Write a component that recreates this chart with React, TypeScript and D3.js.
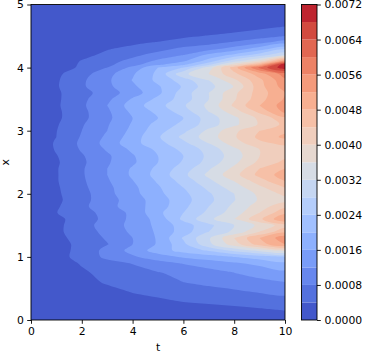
import React, { useEffect, useRef } from 'react';
import * as d3 from 'd3';

// time columns (t) and space rows (x), field values in units of 1e-4
const tValues = [0, 1, 2, 3, 4, 5, 6, 7, 8, 9, 10];
const xRows = [
  0, 0.15, 0.3, 0.45, 0.6, 0.75, 0.9, 1.0, 1.1, 1.2, 1.3, 1.4, 1.5, 1.6, 1.7, 1.8, 1.9, 2.0, 2.1, 2.2, 2.3,
  2.4, 2.5, 2.6, 2.7, 2.8, 2.9, 3.0, 3.1, 3.2, 3.3, 3.4, 3.5, 3.6, 3.7, 3.8, 3.9, 4.0, 4.05, 4.1, 4.2, 4.3,
  4.4, 4.5, 4.65, 4.8, 5,
];
const field = [
  [0, 0, 0, 0, 0, 0, 0, 0, 0, 0, 0],
  [0, 0.1, 0.4, 0.8, 1.2, 1.6, 2, 2.4, 2.9, 3.4, 4],
  [0, 0.3, 1, 1.8, 2.8, 3.4, 4.2, 4.7, 5.2, 5.8, 6.4],
  [0, 0.6, 1.8, 3, 4.2, 5, 5.8, 6.6, 7.4, 8.4, 9.2],
  [0, 1, 2.8, 4.4, 5.6, 6.8, 8, 9, 10, 11, 12],
  [0, 1.5, 3.5, 5, 6.5, 7.8, 9, 10.5, 12, 13.5, 15],
  [0, 2.3, 4.3, 6.5, 8.2, 10.5, 12.3, 14, 15.5, 17, 19],
  [0, 2.7, 5.2, 9, 11.4, 14, 16.5, 18, 20, 22, 24],
  [0, 2.5, 5.2, 9.3, 13.3, 18, 21.5, 24.5, 29, 33, 37],
  [0, 2.5, 5.1, 7.8, 12, 16.5, 23, 31, 38, 46, 52],
  [0, 2.9, 5.5, 8.5, 12, 16.5, 24.5, 31.5, 40, 48, 54.5],
  [0, 3.2, 6, 9.2, 12.8, 16.7, 22, 28, 33, 40, 47],
  [0, 3, 6.4, 9.7, 13.2, 17, 22, 27, 32, 37, 42],
  [0, 3, 5.9, 9.2, 13, 17.5, 25, 31, 36, 43, 52],
  [0, 3.9, 6.5, 9.3, 13, 19, 24, 29, 34, 40, 47],
  [0, 3.5, 7, 10.6, 14, 18, 23, 28, 33, 38, 43],
  [0, 3.1, 6.7, 10.3, 14, 18, 22.5, 27, 31.8, 36.5, 38.5],
  [0, 3.4, 6.5, 10.8, 14.7, 19, 23, 27.5, 32, 37, 41],
  [0, 3.5, 7, 11, 15, 19.5, 24, 29, 34, 39, 44],
  [0, 3.7, 7.3, 11.5, 15.8, 20.5, 25.5, 31, 36, 42, 48],
  [0, 3.7, 7.5, 12, 16.7, 21.5, 27, 33, 38.5, 45.3, 50],
  [0, 3.7, 7.5, 12, 16.5, 21, 26, 31.5, 37, 44, 48],
  [0, 3.5, 7.2, 11.5, 15.3, 20, 24.5, 29.5, 35, 41, 45],
  [0, 3.8, 7.6, 11.3, 15.6, 20, 24, 29, 34, 40, 43],
  [0, 4.4, 8.4, 12.4, 16.8, 20.8, 25, 29.5, 35, 40, 42],
  [0, 4.6, 8.8, 13.4, 18.7, 22.5, 27, 32, 38, 43, 45],
  [0, 4, 8.4, 12.8, 18, 23.5, 29, 34, 39.5, 45, 49],
  [0, 3.9, 8, 12, 17.2, 22.5, 27, 33, 39, 44, 47],
  [0, 3.6, 7.6, 11.6, 16.5, 21.5, 25, 30, 35, 40.5, 45],
  [0, 3.2, 6.9, 11, 16, 20, 24, 30, 35, 41, 47],
  [0, 3.2, 6.9, 11.2, 17, 21, 26, 32, 38, 45, 53],
  [0, 3.4, 7.2, 12, 18, 22.5, 27.5, 33, 40.8, 48, 54],
  [0, 3.3, 7, 11, 16.5, 21, 26, 32, 39.5, 46.5, 52.5],
  [0, 3.4, 6.5, 10, 14, 19, 26, 32, 39, 46, 52],
  [0, 3.6, 7.4, 11, 15.2, 19.5, 24.5, 30.6, 36.2, 46.5, 54],
  [0, 3.5, 7.3, 11.2, 16.2, 21, 26, 32, 39, 47, 55],
  [0, 3.2, 6.4, 10.6, 15.5, 21, 31, 36, 43, 50, 58],
  [0, 2.2, 4.6, 8, 13, 20, 24, 34, 46, 61, 71],
  [0, 1.7, 4.5, 7, 10.5, 15, 19, 27, 38, 49, 71.8],
  [0, 1.1, 4.3, 6.5, 9.3, 13, 15.7, 22, 31, 38, 55],
  [0, 0.6, 2.8, 5, 7, 9.5, 12, 17, 21, 26, 32],
  [0, 0.4, 1.8, 3.7, 5, 6.5, 9, 10.5, 13.5, 18, 23],
  [0, 0.2, 0.8, 2, 3.2, 4.2, 5.4, 6.6, 8.4, 10.5, 14],
  [0, 0, 0.2, 0.7, 1.2, 2.2, 3.4, 4.2, 5, 6.3, 8],
  [0, 0, 0, 0.1, 0.3, 0.5, 1, 1.5, 2.3, 3, 4],
  [0, 0, 0, 0, 0.1, 0.2, 0.3, 0.5, 0.8, 1.2, 1.6],
  [0, 0, 0, 0, 0, 0, 0, 0, 0, 0, 0],
];
const levels = d3.range(0, 19).map((i) => i * 4);
const bandColors = [
  '#4358cb', '#5471de', '#6787ee', '#799cf8', '#8db0fe', '#a1c0ff', '#b4cdfb', '#c5d6f2', '#d6dce5',
  '#e6d8d0', '#f0cebd', '#f6c0a7', '#f7af91', '#f49a7b', '#ed8266', '#e16752', '#d24a3f', '#be242f',
];
const tTicks = [0, 2, 4, 6, 8, 10];
const xTicks = [0, 1, 2, 3, 4, 5];
const cbarTicks = [0, 8, 16, 24, 32, 40, 48, 56, 64, 72];

const WIDTH = 365;
const HEIGHT = 355;
const plot = { left: 31, right: 285, top: 4.5, bottom: 320 };
const cbar = { left: 301.5, right: 317 };
const FONT = '"DejaVu Sans"';
const FONT_SIZE = 10.8;

const App = () => {
  const svgRef = useRef<SVGSVGElement>(null);

  useEffect(() => {
    const svg = d3.select(svgRef.current);
    svg.selectAll('*').remove();

    const tScale = d3.scaleLinear().domain([0, 10]).range([plot.left, plot.right]);
    const xScale = d3.scaleLinear().domain([0, 5]).range([plot.bottom, plot.top]);
    const cScale = d3.scaleLinear().domain([0, 72]).range([plot.bottom, plot.top]);

    // grid index -> data value, the rows are not evenly spaced
    const colScale = d3.scaleLinear().domain(d3.range(tValues.length)).range(tValues);
    const rowScale = d3.scaleLinear().domain(d3.range(xRows.length)).range(xRows);

    const contours = d3.contours()
      .size([tValues.length, xRows.length])
      .thresholds(levels.slice(1, -1))(field.flat());

    // rounded contour lines, the overshoot at the frame is clipped
    const ringLine = d3.line().curve(d3.curveCatmullRomClosed.alpha(0.5));
    const bandPath = (d) => d.coordinates
      .flatMap((poly) => poly.map((ring) => ringLine(
        ring.slice(0, -1).map(([u, v]) => [tScale(colScale(u - 0.5)), xScale(rowScale(v - 0.5))]),
      )))
      .join('');

    svg.append('clipPath')
      .attr('id', 'plot-clip')
      .append('rect')
      .attr('x', plot.left)
      .attr('y', plot.top)
      .attr('width', plot.right - plot.left)
      .attr('height', plot.bottom - plot.top);

    const g = svg.append('g').attr('clip-path', 'url(#plot-clip)');
    g.append('rect')
      .attr('x', plot.left)
      .attr('y', plot.top)
      .attr('width', plot.right - plot.left)
      .attr('height', plot.bottom - plot.top)
      .attr('fill', bandColors[0]);

    g.selectAll('path.band')
      .data(contours)
      .enter().append('path')
      .attr('class', 'band')
      .attr('d', bandPath)
      .attr('fill', (d, i) => bandColors[i + 1]);

    svg.append('rect')
      .attr('x', plot.left)
      .attr('y', plot.top)
      .attr('width', plot.right - plot.left)
      .attr('height', plot.bottom - plot.top)
      .attr('fill', 'none')
      .attr('stroke', '#000')
      .attr('stroke-width', 0.9);

    const styleAxis = (sel) => {
      sel.select('.domain').remove();
      sel.selectAll('line').attr('stroke', '#000').attr('stroke-width', 0.9);
      sel.selectAll('text').attr('fill', '#000').attr('font-family', FONT).attr('font-size', FONT_SIZE);
    };

    svg.append('g')
      .attr('transform', `translate(0,${plot.bottom})`)
      .call(d3.axisBottom(tScale).tickValues(tTicks).tickSize(3.8).tickPadding(3.6).tickFormat(d3.format('d')))
      .call(styleAxis);

    svg.append('g')
      .attr('transform', `translate(${plot.left},0)`)
      .call(d3.axisLeft(xScale).tickValues(xTicks).tickSize(3.8).tickPadding(3.4).tickFormat(d3.format('d')))
      .call(styleAxis);

    svg.append('text')
      .attr('x', (plot.left + plot.right) / 2)
      .attr('y', 351)
      .attr('text-anchor', 'middle')
      .attr('font-family', FONT)
      .attr('font-size', FONT_SIZE)
      .text('t');

    svg.append('text')
      .attr('transform', `translate(9,${(plot.top + plot.bottom) / 2}) rotate(-90)`)
      .attr('text-anchor', 'middle')
      .attr('font-family', FONT)
      .attr('font-size', FONT_SIZE)
      .text('x');

    // colorbar
    svg.append('g')
      .selectAll('rect')
      .data(bandColors)
      .enter().append('rect')
      .attr('x', cbar.left)
      .attr('y', (d, i) => cScale(levels[i + 1]))
      .attr('width', cbar.right - cbar.left)
      .attr('height', (d, i) => cScale(levels[i]) - cScale(levels[i + 1]))
      .attr('fill', (d) => d);

    svg.append('rect')
      .attr('x', cbar.left)
      .attr('y', plot.top)
      .attr('width', cbar.right - cbar.left)
      .attr('height', plot.bottom - plot.top)
      .attr('fill', 'none')
      .attr('stroke', '#000')
      .attr('stroke-width', 0.9);

    svg.append('g')
      .attr('transform', `translate(${cbar.right},0)`)
      .call(d3.axisRight(cScale).tickValues(cbarTicks).tickSize(3.8).tickPadding(3.6).tickFormat((d) => d3.format('.4f')(+d / 10000)))
      .call(styleAxis);
  }, []);

  return (
    <svg
      ref={svgRef}
      width={WIDTH}
      height={HEIGHT}
      style={{ position: 'absolute', left: 0, top: 0, background: '#fff' }}
    />
  );
};

export default App;
